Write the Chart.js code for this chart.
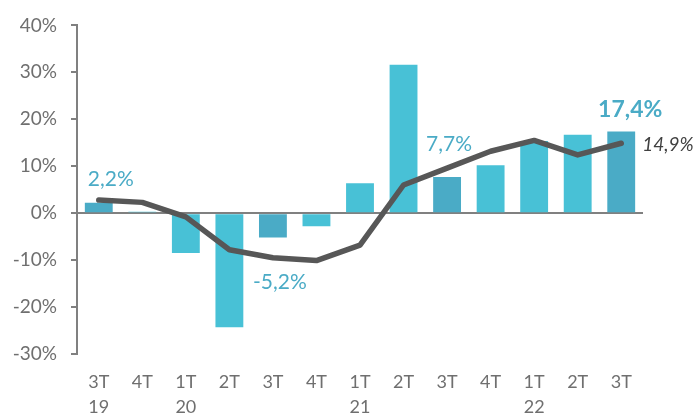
<!DOCTYPE html>
<html><head><meta charset="utf-8">
<script src="https://cdn.jsdelivr.net/npm/chart.js@4/dist/chart.umd.min.js"></script>
<style>html,body{margin:0;padding:0;background:#fff}#wrap{width:695px;height:417px}</style>
</head><body><div id="wrap"><canvas id="c" width="695" height="417"></canvas></div>
<script>
const categories = [["3T","19"],"4T",["1T","20"],"2T","3T","4T",["1T","21"],"2T","3T","4T",["1T","22"],"2T","3T"];
const barValues = [2.2, 0.3, -8.5, -24.3, -5.2, -2.8, 6.4, 31.6, 7.7, 10.2, 15.4, 16.7, 17.4];
const lineValues = [2.8, 2.3, -0.8, -7.8, -9.5, -10.1, -6.8, 6.0, 9.6, 13.2, 15.5, 12.4, 14.9];
const barLabels = ["2,2%", null, null, null, "-5,2%", null, null, null, "7,7%", null, null, null, "17,4%"];
const lineLabels = [null, null, null, null, null, null, null, null, null, null, null, null, "14,9%"];
const yTicks = [-30, -20, -10, 0, 10, 20, 30, 40];

const LIGHT = '#48C1D6', DARK = '#4AABC6';
const barColors = categories.map((c, i) => ((Array.isArray(c) ? c[0] : c) === '3T') ? DARK : LIGHT);
const FONT = 'Lato, "Open Sans", sans-serif';

const labelPlugin = {
  id: 'valueLabels',
  afterDatasetsDraw(chart) {
    const ctx = chart.ctx;
    const barMeta = chart.getDatasetMeta(1);
    const lineMeta = chart.getDatasetMeta(0);
    ctx.save();
    barLabels.forEach((t, i) => {
      if (!t) return;
      const el = barMeta.data[i];
      const last = i === barLabels.length - 1;
      ctx.fillStyle = DARK;
      ctx.font = (last ? 'bold 23px ' : '21px ') + FONT;
      ctx.textAlign = 'center';
      ctx.textBaseline = 'middle';
      let x = el.x, y;
      if (barValues[i] >= 0) {
        y = el.y - (last ? 22 : (i === 0 ? 24 : 33));
        x += last ? 9 : (i === 0 ? 12 : 2);
      } else {
        y = el.y + 45; x += 7;
      }
      ctx.fillText(t, x, y);
    });
    lineLabels.forEach((t, i) => {
      if (!t) return;
      const el = lineMeta.data[i];
      ctx.fillStyle = '#404040';
      ctx.font = 'italic 19px ' + FONT;
      ctx.textAlign = 'left';
      ctx.textBaseline = 'middle';
      ctx.fillText(t, el.x + 21, el.y + 2);
    });
    ctx.restore();
  }
};

new Chart(document.getElementById('c'), {
  data: {
    labels: categories,
    datasets: [
      { type: 'line', data: lineValues, borderColor: '#575757', borderWidth: 5.5, pointRadius: 0,
        tension: 0, borderCapStyle: 'round', borderJoinStyle: 'round', order: 0 },
      { type: 'bar', data: barValues, backgroundColor: barColors, barPercentage: 0.64,
        categoryPercentage: 1, order: 1 }
    ]
  },
  options: {
    responsive: false, animation: false, devicePixelRatio: 1,
    layout: { padding: { top: 21, right: 52, left: 0, bottom: 0 } },
    plugins: { legend: { display: false }, tooltip: { enabled: false } },
    scales: {
      x: {
        grid: { display: false, drawTicks: false },
        border: { display: false },
        ticks: { color: '#6f6f6f', font: { family: FONT, size: 18, lineHeight: 1.39 }, padding: 16, maxRotation: 0, autoSkip: false },
        afterFit(s) { s.height = 63; }
      },
      y: {
        min: -30, max: 40,
        afterBuildTicks(s) { s.ticks = yTicks.map(v => ({ value: v })); },
        grid: {
          color: c => (c.tick && c.tick.value === 0) ? '#808080' : 'rgba(0,0,0,0)',
          lineWidth: 2, tickColor: '#808080', tickLength: 6, drawTicks: true
        },
        border: { display: true, color: '#808080', width: 2 },
        ticks: { color: '#6f6f6f', font: { family: FONT, size: 19 }, padding: 14, callback: v => v + '%' },
        afterFit(s) { s.width = 77; }
      }
    }
  },
  plugins: [labelPlugin]
});
</script></body></html>
